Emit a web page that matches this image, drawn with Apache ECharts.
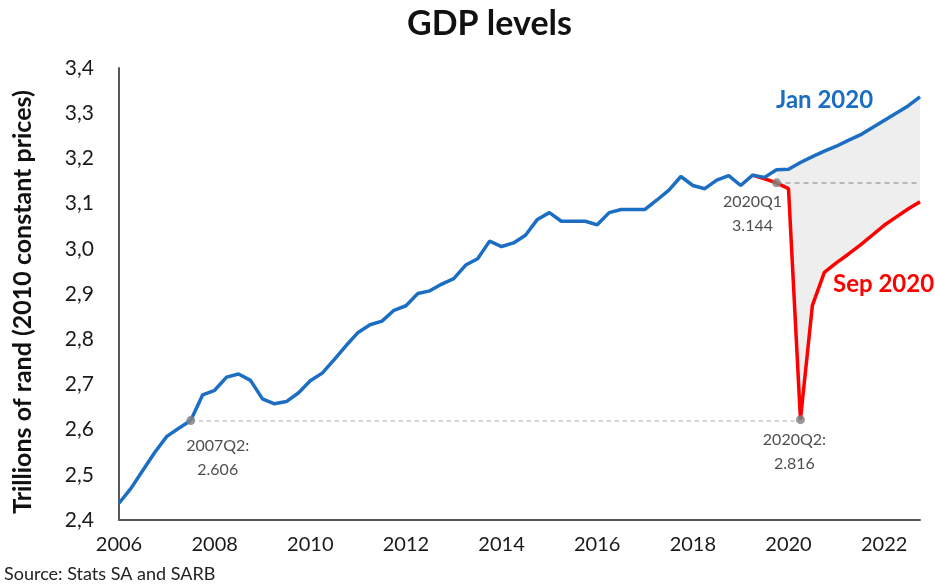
<!DOCTYPE html>
<html>
<head>
<meta charset="utf-8">
<script src="https://cdn.jsdelivr.net/npm/echarts@6/dist/echarts.min.js"></script>
<style>
  html, body { margin: 0; padding: 0; background: #ffffff; }
  #chart { width: 935px; height: 585px; }
</style>
</head>
<body>
<div id="chart"></div>
<script>
// ---- Data ----
const quarters = [];
for (let y = 2006; y <= 2022; y++) { for (let q = 1; q <= 4; q++) quarters.push(y + 'Q' + q); }

const jan2020 = [
  2.437, 2.470, 2.510, 2.550, 2.585, 2.603, 2.620, 2.677, 2.687, 2.716,
  2.723, 2.709, 2.668, 2.657, 2.662, 2.681, 2.708, 2.725, 2.755, 2.786,
  2.815, 2.832, 2.840, 2.864, 2.874, 2.901, 2.907, 2.922, 2.934, 2.964,
  2.978, 3.017, 3.005, 3.013, 3.030, 3.065, 3.080, 3.061, 3.061, 3.061,
  3.053, 3.080, 3.087, 3.087, 3.087, 3.108, 3.130, 3.160, 3.140, 3.133,
  3.152, 3.162, 3.140, 3.163, 3.158, 3.175, 3.176, 3.191, 3.204, 3.216,
  3.227, 3.240, 3.252, 3.268, 3.284, 3.300, 3.316, 3.336
];

const sep2020Start = 53;
const sep2020 = [
  3.163, 3.155, 3.146, 3.133, 2.622, 2.875, 2.948, 2.969, 2.988, 3.008,
  3.030, 3.052, 3.070, 3.088, 3.104
];

const bandStart = 55;

// annotated points: [quarter index, value, label]
const annotations = [
  [6, 2.620, '2007Q2:\n2.606'],
  [55, 3.146, '2020Q1\n3.144'],
  [57, 2.622, '2020Q2:\n2.816']
];
const annotationOffsets = [[27, 4], [-24, -2], [-6, -1]];

const yTicks = { min: 2.4, max: 3.4, interval: 0.1 };
const titleText = 'GDP levels';
const yName = 'Trillions of rand (2010 constant prices)';
const sourceText = 'Source: Stats SA and SARB';

// ---- Build series arrays ----
const sepSeries = quarters.map((_, i) => (i >= sep2020Start ? sep2020[i - sep2020Start] : '-'));
const bandBase = quarters.map((_, i) => (i >= bandStart ? sep2020[i - sep2020Start] : '-'));
const bandDiff = quarters.map((_, i) => (i >= bandStart ? +(jan2020[i] - sep2020[i - sep2020Start]).toFixed(4) : '-'));

const FONT = 'Lato, "Open Sans", sans-serif';

const chart = echarts.init(document.getElementById('chart'));
chart.setOption({
  animation: false,
  backgroundColor: '#ffffff',
  title: {
    text: titleText, left: 402, top: 2,
    textStyle: { fontFamily: FONT, fontSize: 34, fontWeight: 'bold', color: '#111' }
  },
  grid: { left: 119, right: 15, top: 68, bottom: 65 },
  xAxis: {
    type: 'category', data: quarters, boundaryGap: false,
    axisLine: { lineStyle: { color: '#595959', width: 2 } },
    axisTick: { show: false },
    axisLabel: {
      interval: (i) => i % 8 === 0,
      formatter: (v) => v.slice(0, 4),
      fontFamily: FONT, fontSize: 20, color: '#1a1a1a', margin: 15
    },
    splitLine: { show: false }
  },
  yAxis: {
    type: 'value', min: yTicks.min, max: yTicks.max, interval: yTicks.interval,
    name: yName, nameLocation: 'middle', nameGap: 84,
    nameTextStyle: { fontFamily: FONT, fontSize: 25, fontWeight: 'bold', color: '#111', padding: [0, 16, 0, 0] },
    axisLine: { show: true, lineStyle: { color: '#595959', width: 2 } },
    axisTick: { show: false },
    splitLine: { show: false },
    axisLabel: {
      formatter: (v) => v.toFixed(1).replace('.', ','),
      fontFamily: FONT, fontSize: 21, color: '#1a1a1a', margin: 25
    }
  },
  series: [
    {
      name: 'bandBase', type: 'line', stack: 'band', data: bandBase,
      symbol: 'none', lineStyle: { opacity: 0 }, silent: true, z: 1
    },
    {
      name: 'band', type: 'line', stack: 'band', data: bandDiff,
      symbol: 'none', lineStyle: { opacity: 0 },
      areaStyle: { color: '#eeeeee', opacity: 1 }, silent: true, z: 1,
      markLine: {
        symbol: 'none', silent: true, label: { show: false },
        lineStyle: { color: '#a6a6a6', type: [5, 4], width: 1.5 },
        data: [[{ coord: [annotations[1][0], annotations[1][1]] }, { coord: [quarters.length - 1, annotations[1][1]] }]]
      }
    },
    {
      name: 'Sep 2020', type: 'line', data: sepSeries, symbol: 'none',
      lineStyle: { color: '#ff0000', width: 3.5 }, z: 2
    },
    {
      name: 'Jan 2020', type: 'line', data: jan2020, symbol: 'none',
      lineStyle: { color: '#1b6ec2', width: 3.5 },
      markLine: {
        symbol: 'none', silent: true, label: { show: false },
        lineStyle: { color: '#c8c8c8', type: [4, 4], width: 1.5 },
        data: [[{ coord: [annotations[0][0], annotations[0][1]] }, { coord: [annotations[2][0], annotations[0][1]] }]]
      },
      z: 3
    },
    {
      name: 'points', type: 'scatter', symbolSize: 9, z: 5,
      itemStyle: { color: '#808080' },
      data: annotations.map((a, k) => ({
        value: [a[0], a[1]],
        label: {
          show: true, position: 'bottom', formatter: a[2],
          offset: annotationOffsets[k],
          fontFamily: FONT, fontSize: 16, lineHeight: 24, color: '#222', align: 'center'
        }
      }))
    }
  ],
  graphic: [
    { type: 'text', left: 776, top: 88, style: { text: 'Jan 2020', font: 'bold 24px ' + FONT, fill: '#1b6ec2' } },
    { type: 'text', left: 833, top: 272, style: { text: 'Sep 2020', font: 'bold 24px ' + FONT, fill: '#ff0000' } },
    { type: 'text', left: 4, top: 565, style: { text: sourceText, font: '18px ' + FONT, fill: '#222' } }
  ]
});
</script>
</body>
</html>
